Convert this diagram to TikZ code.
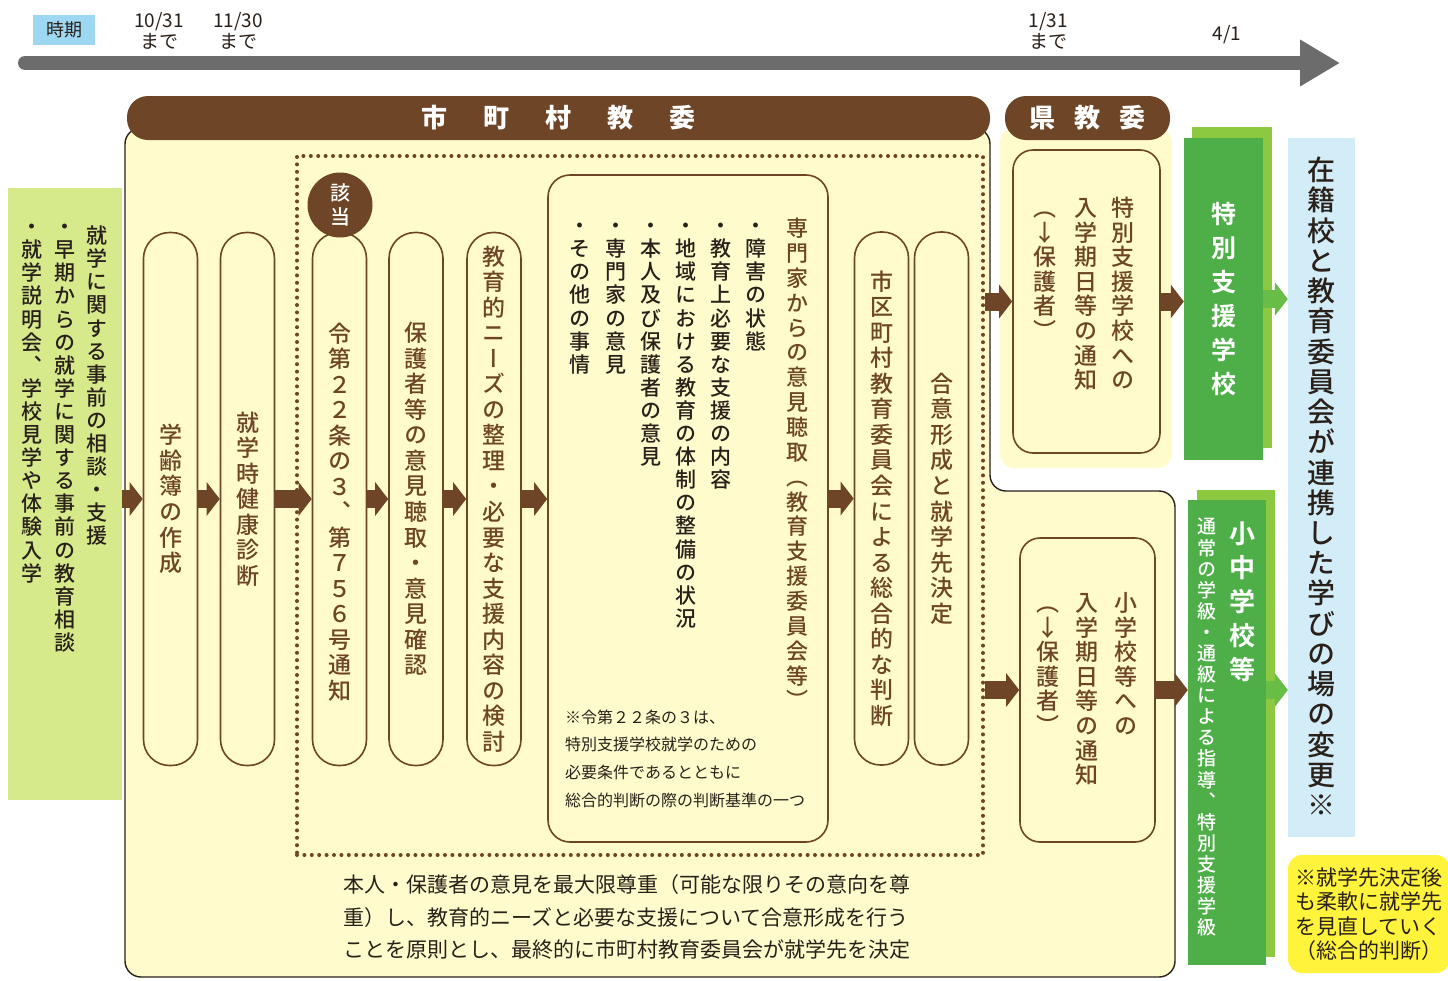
\documentclass[tikz,border=0pt]{standalone}
\usepackage{fontspec}
\newfontfamily\jp{Noto Sans CJK JP}
\newfontfamily\jpv[RawFeature={+vert}, UprightFont={* Medium}, BoldFont={* Bold}]{Noto Sans CJK JP}
\usetikzlibrary{arrows.meta}
\usetikzlibrary{positioning}

\definecolor{brn}{HTML}{6E4526}
\definecolor{txt}{HTML}{2A201A}
\definecolor{ylw}{HTML}{FFFBCD}
\definecolor{lgrn}{HTML}{D6EA8C}
\definecolor{dgrn}{HTML}{4EAF48}
\definecolor{mgrn}{HTML}{8DC841}
\definecolor{arrgrn}{HTML}{68BD47}
\definecolor{lblue}{HTML}{D2ECF8}
\definecolor{kblue}{HTML}{9ED7F1}
\definecolor{tgray}{HTML}{6C6C6C}
\definecolor{nyel}{HTML}{FFF33C}

% vertical (tategaki) text: one character per line
\ExplSyntaxOn
\NewDocumentCommand \tate { O{1.11} m }
  {
    \vbox
      {
        \baselineskip = #1 em
        \lineskiplimit = -100pt
        \tl_map_inline:nn {#2}
          {
            \hbox_to_wd:nn { 1em } { \hss \vrule height .88em depth .12em width 0pt ##1 \hss }
          }
      }
  }
\ExplSyntaxOff

% horizontal font: size, leading
\newcommand\hsz[2]{\jp\fontsize{#1}{#2}\selectfont}
\newcommand\vsz[1]{\jpv\fontsize{#1}{#1}\selectfont}

\begin{document}
\begin{tikzpicture}[x=1pt, y=-1pt,
    pill/.style={draw=brn, line width=1.6pt, rounded corners=26pt, minimum width=54pt,
      minimum height=533pt, inner sep=0pt, text=brn, font=\vsz{23}},
    notice/.style={draw=brn, line width=1.6pt, rounded corners=20pt, inner sep=0pt},
    vcol/.style={anchor=north, inner sep=0pt},
    band/.style={fill=brn, rounded corners=21pt, minimum height=44pt, inner sep=0pt,
      text=white, font=\hsz{26}{30}\bfseries},
    barrow/.style={draw=brn, line width=18pt, -{Triangle[length=13pt,width=33pt]}},
    garrow/.style={draw=arrgrn, line width=18pt, -{Triangle[length=13pt,width=33pt]}},
    datelbl/.style={align=center, inner sep=0pt, font=\hsz{19}{21}, text=txt}]
  \useasboundingbox (0,0) rectangle (1448,980);

  % timeline
  \node[fill=kblue, minimum width=62pt, minimum height=30pt, inner sep=0pt,
    font=\hsz{18}{20}, text=txt] (jiki) at (64,30) {時期};
  \node[datelbl] (d1) at (159,31) {10/31\\まで};
  \node[datelbl] (d2) at (238,31) {11/30\\まで};
  \node[datelbl] (d3) at (1048,31) {1/31\\まで};
  \node[datelbl] (d4) at (1227,35) {4/1};
  \coordinate (t0) at (25,63);
  \coordinate (t1) at (1340,63);
  \draw[draw=tgray, line width=14pt, line cap=round,
    -{Triangle[length=40pt,width=44pt]}] (t0) -- (t1);

  % regions
  \node[fill=lgrn, minimum width=114pt, minimum height=612pt, inner sep=0pt] (lbox) at (65,494) {};
  \draw[fill=ylw, draw=txt, line width=1.4pt, rounded corners=16pt]
    (125,128) -- (990,128) -- (990,491) -- (1175,491) -- (1175,977) -- (125,977) -- cycle;
  \fill[ylw, rounded corners=14pt] (1000,128) rectangle (1172,468);
  \node[band, minimum width=863pt] (mhead) at (558.5,118)
    {市\hskip36pt 町\hskip36pt 村\hskip36pt 教\hskip36pt 委};
  \node[band, minimum width=165pt] (khead) at (1087.5,118)
    {県\hskip19pt 教\hskip19pt 委};

  % left box
  \node[vcol, font=\vsz{21}, text=txt] (l1) at (97,225) {\tate[1.1]{就学に関する事前の相談・支援}};
  \node[vcol, font=\vsz{21}, text=txt] (l2) at (65,216) {\tate[1.1]{・早期からの就学に関する事前の教育相談}};
  \node[vcol, font=\vsz{21}, text=txt] (l3) at (32,216) {\tate[1.1]{・就学説明会、学校見学や体験入学}};

  \node[draw=brn, line width=4pt, dash pattern=on 0pt off 7.4pt, line cap=round,
    minimum width=686pt, minimum height=699pt, inner sep=0pt] (dots) at (640,505.5) {};

  % pillars
  \node[pill] (p1) at (170.5,499) {\tate{学齢簿の作成}};
  \node[pill] (p2) at (247.5,499) {\tate{就学時健康診断}};
  \node[pill] (p3) at (339.5,499) {\vbox{\kern26pt\tate{令第２２条の３、第７５６号通知}}};
  \node[pill] (p4) at (416,499) {\tate{保護者等の意見聴取・意見確認}};
  \node[pill] (p5) at (494,499) {\tate{教育的ニーズの整理・必要な支援内容の検討}};
  \node[pill] (p6) at (881.5,498.5) {\tate{市区町村教育委員会による総合的な判断}};
  \node[pill] (p7) at (941.5,498.5) {\tate{合意形成と就学先決定}};
  \node[circle, fill=brn, minimum size=65pt, inner sep=0pt, text=white,
    font=\vsz{20}] (gaito) at (340,205) {\tate[1.2]{該当}};

  % experts box
  \node[notice, rounded corners=22pt, minimum width=280pt, minimum height=667pt] (big) at (688,508.5) {};
  \node[vcol, font=\vsz{22}, text=brn] (bt) at (797,217) {\tate[1.13]{専門家からの意見聴取（教育支援委員会等）}};
  \node[vcol, font=\vsz{21}, text=txt] (b1) at (756,215) {\tate[1.1]{・障害の状態}};
  \node[vcol, font=\vsz{21}, text=txt] (b2) at (721,215) {\tate[1.1]{・教育上必要な支援の内容}};
  \node[vcol, font=\vsz{21}, text=txt] (b3) at (686,215) {\tate[1.1]{・地域における教育の体制の整備の状況}};
  \node[vcol, font=\vsz{21}, text=txt] (b4) at (651,215) {\tate[1.1]{・本人及び保護者の意見}};
  \node[vcol, font=\vsz{21}, text=txt] (b5) at (616,215) {\tate[1.1]{・専門家の意見}};
  \node[vcol, font=\vsz{21}, text=txt] (b6) at (580,215) {\tate[1.1]{・その他の事情}};
  \node[anchor=west, align=left, inner sep=0pt, font=\hsz{16}{27.7}, text=txt] (cond) at (565,758.5)
    {※令第２２条の３は、\\特別支援学校就学のための\\必要条件であるとともに\\総合的判断の際の判断基準の一つ};

  \node[anchor=west, align=left, inner sep=0pt, font=\hsz{21}{32.5}, text=txt] (policy) at (343,917)
    {本人・保護者の意見を最大限尊重（可能な限りその意向を尊\\重）し、教育的ニーズと必要な支援について合意形成を行う\\ことを原則とし、最終的に市町村教育委員会が就学先を決定};

  % notices
  \node[notice, minimum width=147pt, minimum height=303pt] (ken) at (1086.5,301.5) {};
  \node[vcol, font=\vsz{23}, text=brn] (k1) at (1123,196) {\tate[1.07]{特別支援学校への}};
  \node[vcol, font=\vsz{23}, text=brn] (k2) at (1086,196) {\tate[1.07]{入学期日等の通知}};
  \node[vcol, font=\vsz{23}, text=brn] (k3) at (1045,196) {\tate[1.07]{（↓保護者）}};
  \node[notice, minimum width=135pt, minimum height=304pt] (sho) at (1087.5,690) {};
  \node[vcol, font=\vsz{23}, text=brn] (s1) at (1126,591) {\tate[1.07]{小学校等への}};
  \node[vcol, font=\vsz{23}, text=brn] (s2) at (1087,591) {\tate[1.07]{入学期日等の通知}};
  \node[vcol, font=\vsz{23}, text=brn] (s3) at (1048,591) {\tate[1.07]{（↓保護者）}};

  % schools
  \fill[mgrn] (1192,127) rectangle (1272,448);
  \node[fill=dgrn, minimum width=79pt, minimum height=322pt, inner sep=0pt, text=white,
    font=\vsz{25}\bfseries] (sp) at (1223.5,299) {\tate[1.36]{特別支援学校}};
  \fill[mgrn] (1197,490) rectangle (1275,957);
  \node[fill=dgrn, minimum width=78pt, minimum height=465pt, inner sep=0pt] (shochu) at (1227,732.5) {};
  \node[vcol, font=\vsz{26}\bfseries, text=white] (scname) at (1242,520) {\tate[1.31]{小中学校等}};
  \node[vcol, font=\vsz{19}, text=white] (sctype) at (1207,517) {\tate[1.11]{通常の学級・通級による指導、特別支援学級}};

  \node[fill=lblue, minimum width=67pt, minimum height=699pt, inner sep=0pt, text=txt,
    font=\vsz{28}] (blue) at (1321.5,487.5) {\tate[1.08]{在籍校と教育委員会が連携した学びの場の変更※}};
  \node[fill=nyel, rounded corners=14pt, minimum width=162pt, minimum height=118pt, inner sep=0pt,
    align=left, font=\hsz{21}{24.5}, text=txt] (flex) at (1369,914)
    {※就学先決定後\\も柔軟に就学先\\を見直していく\\（総合的判断）};

  % flow arrows
  \draw[barrow] (lbox.east |- p1.west) -- (p1.west);
  \draw[barrow] (p1.east) -- (p2.west);
  \draw[barrow] (p2.east) -- (p3.west);
  \draw[barrow] (p3.east) -- (p4.west);
  \draw[barrow] (p4.east) -- (p5.west);
  \draw[barrow] (p5.east) -- (p5.east -| big.west);
  \draw[barrow] (big.east |- p6.west) -- (p6.west);
  \draw[barrow] (dots.east |- ken.west) -- (ken.west);
  \draw[barrow] (ken.east) -- (ken.east -| sp.west);
  \draw[barrow] (dots.east |- sho.west) -- (sho.west);
  \draw[barrow] (sho.east) -- (sho.east -| shochu.west);
  \draw[garrow] (sp.east) -- (sp.east -| blue.west);
  \draw[garrow] (shochu.east |- sho.east) -- (blue.west |- sho.east);
\end{tikzpicture}
\end{document}
